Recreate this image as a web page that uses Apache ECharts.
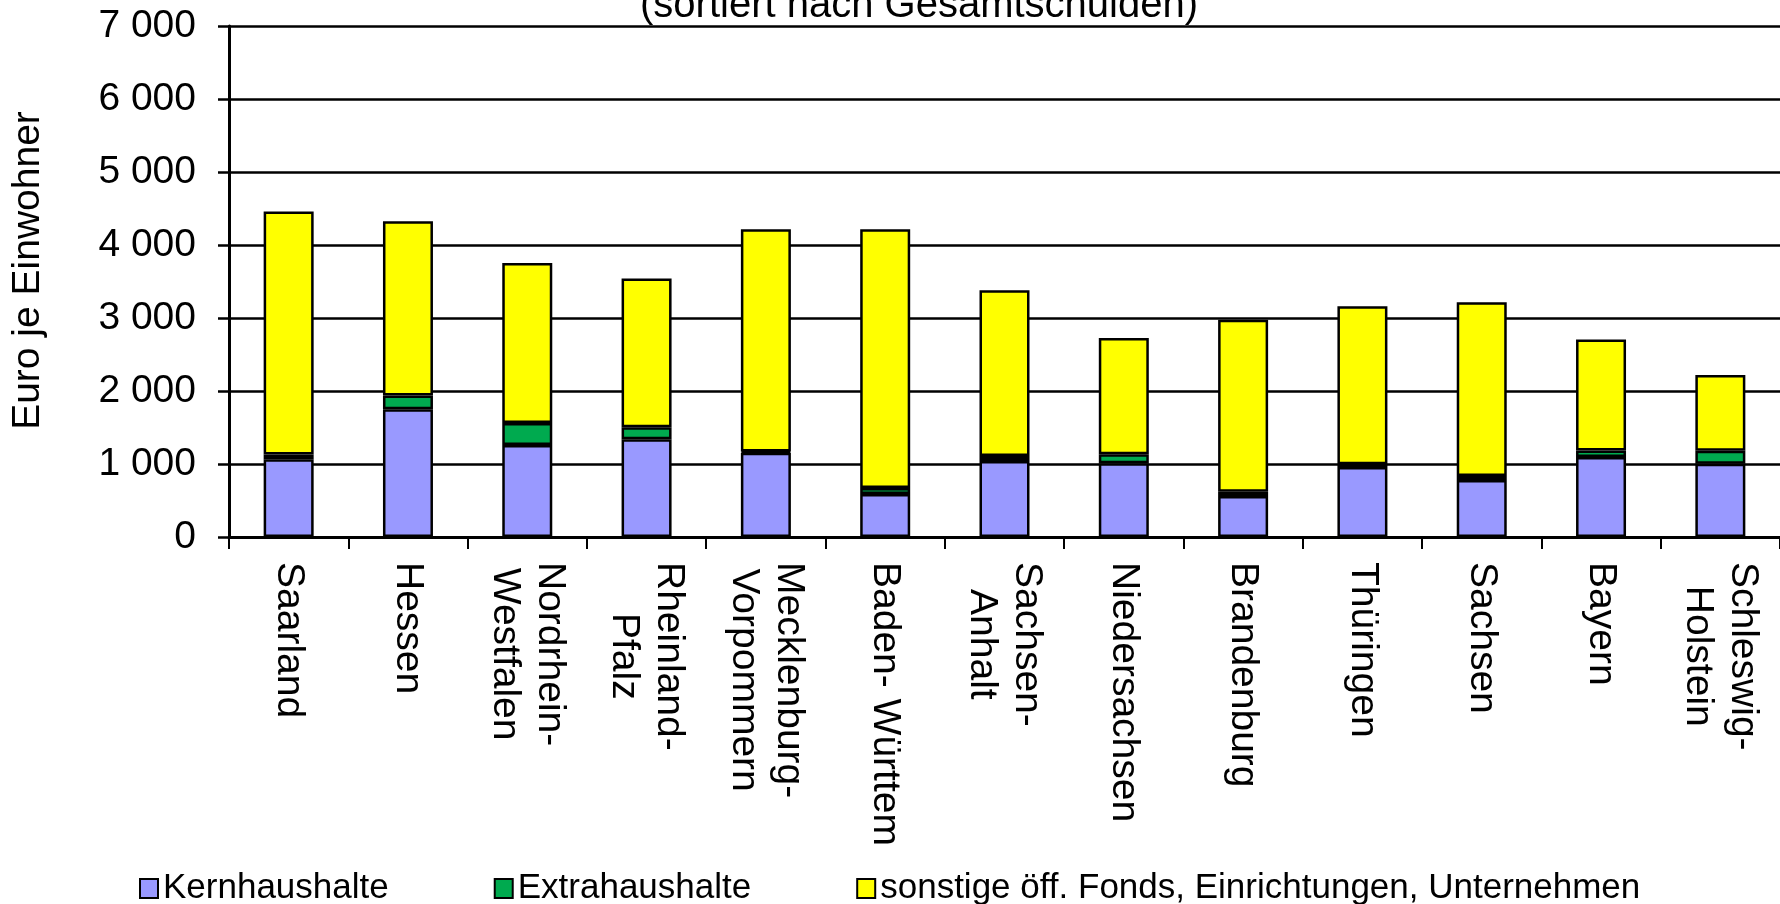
<!DOCTYPE html>
<html>
<head>
<meta charset="utf-8">
<script src="https://cdn.jsdelivr.net/npm/echarts@6.0.0/dist/echarts.min.js"></script>
<style>html,body{margin:0;padding:0;background:#fff}#c{width:1780px;height:904px}</style>
</head>
<body>
<div id="c"></div>
<script>
const categories = ['Saarland', 'Hessen', 'Nordrhein-\nWestfalen', 'Rheinland-\nPfalz', 'Mecklenburg-\nVorpommern', 'Baden- Württemberg', 'Sachsen-\nAnhalt', 'Niedersachsen', 'Brandenburg', 'Thüringen', 'Sachsen', 'Bayern', 'Schleswig-\nHolstein'];
const kernhaushalte = [1065, 1750, 1260, 1340, 1155, 590, 1040, 1010, 560, 960, 780, 1095, 1005];
const extrahaushalte = [65, 190, 300, 165, 15, 80, 70, 125, 60, 35, 55, 90, 175];
const sonstige = [3330, 2385, 2195, 2035, 3045, 3545, 2270, 1590, 2355, 2165, 2380, 1520, 1040];
const yTickLabels = ['0', '1 000', '2 000', '3 000', '4 000', '5 000', '6 000', '7 000'];
const seriesNames = ['Kernhaushalte', 'Extrahaushalte', 'sonstige öff. Fonds, Einrichtungen, Unternehmen'];
const subtitleText = '(sortiert nach Gesamtschulden)';
const yAxisTitle = 'Euro je Einwohner';

const FONT = '"Liberation Sans", Arial, sans-serif';
const colors = ['#9999FF', '#00AA4F', '#FFFF00'];
const chart = echarts.init(document.getElementById('c'), null, {renderer: 'canvas'});

const xData = categories.map(c => c === 'Baden- Württemberg'
  ? {value: c, textStyle: {width: 292, overflow: 'truncate', ellipsis: ''}}
  : c);

const mkSeries = (name, data, color) => ({
  name: name,
  type: 'bar',
  stack: 'total',
  data: data,
  barWidth: 50,
  itemStyle: {color: color, borderColor: '#000', borderWidth: 2.5},
  emphasis: {disabled: true},
  animation: false
});

chart.setOption({
  animation: false,
  backgroundColor: '#fff',
  title: {
    text: subtitleText,
    left: 914,
    top: -19,
    textAlign: 'center',
    textStyle: {fontSize: 40, fontWeight: 'normal', fontFamily: FONT, color: '#000'}
  },
  legend: {
    left: 134,
    top: 866,
    itemWidth: 18,
    itemHeight: 19,
    itemGap: 105,
    icon: 'rect',
    textStyle: {fontSize: 35, fontFamily: FONT, color: '#000'},
    data: seriesNames
  },
  grid: {left: 229, top: 26, width: 1556, bottom: 367, containLabel: false},
  xAxis: {
    type: 'category',
    data: xData,
    axisLine: {show: true, lineStyle: {color: '#000', width: 3}},
    axisTick: {show: true, length: 12, lineStyle: {color: '#000', width: 2}},
    axisLabel: {
      interval: 0,
      rotate: -90,
      margin: 25,
      fontSize: 39,
      lineHeight: 45,
      fontFamily: FONT,
      color: '#000',
      formatter: v => v.indexOf('\n') >= 0 ? v.split('\n').map(s => '{c|' + s + '}').join('\n') : v,
      rich: {c: {align: 'center', fontSize: 39, lineHeight: 45, fontFamily: FONT, color: '#000'}}
    },
    splitLine: {show: false}
  },
  yAxis: {
    type: 'value',
    min: 0,
    max: 7000,
    interval: 1000,
    name: yAxisTitle,
    nameLocation: 'middle',
    nameRotate: 90,
    nameGap: 181,
    nameTextStyle: {fontSize: 39, fontFamily: FONT, color: '#000', padding: [0, 0, 0, 22]},
    axisLine: {show: true, lineStyle: {color: '#000', width: 3}},
    axisTick: {show: true, inside: false, length: 11, lineStyle: {color: '#000', width: 2.5}},
    axisLabel: {
      margin: 33,
      fontSize: 39,
      fontFamily: FONT,
      color: '#000',
      formatter: v => yTickLabels[Math.round(v / 1000)]
    },
    splitLine: {show: true, lineStyle: {color: '#000', width: 2.5}}
  },
  series: [
    mkSeries(seriesNames[0], kernhaushalte, colors[0]),
    mkSeries(seriesNames[1], extrahaushalte, colors[1]),
    mkSeries(seriesNames[2], sonstige, colors[2])
  ]
});
</script>
</body>
</html>
